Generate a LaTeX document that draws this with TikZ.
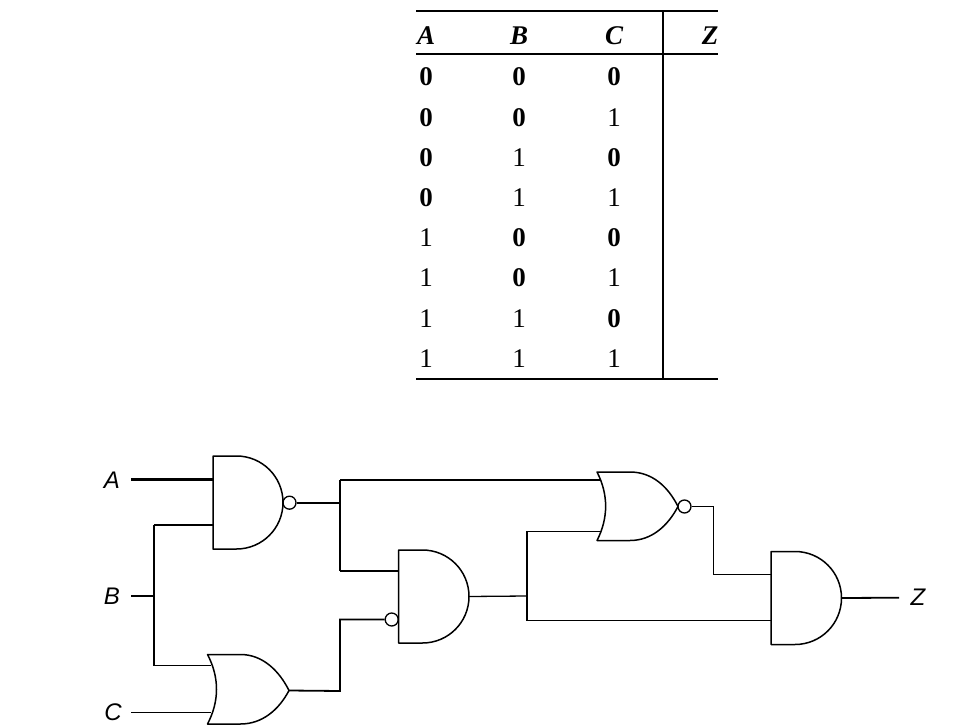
\documentclass[tikz,border=0pt]{standalone}
\usepackage{fontspec}
\setmainfont{Liberation Serif}
\setsansfont{Liberation Sans}
\usetikzlibrary{calc}
\newcommand{\dig}[1]{\ifnum#1=0 \bfseries\fi #1}
\newcommand{\andgate}[5]{% name, xleft, ytop, ybot, xtip
  \pgfmathsetmacro{\gmid}{(#3+#4)/2}
  \pgfmathsetmacro{\grad}{(#4-#3)/2}
  \pgfmathsetmacro{\gstart}{#5-\grad}
  \draw[gate] (#2,#3) -- (\gstart,#3) arc[start angle=-90,end angle=90,x radius=\grad pt,y radius=-\grad pt] -- (#2,#4) -- cycle;
  \coordinate (#1) at (#5,\gmid);
}
\newcommand{\orgate}[7]{% name, xback, ytop, ybot, xapex, xtip, ytip
  \pgfmathsetmacro{\gmid}{(#3+#4)/2}
  \draw[gate] (#2,#3) -- ($(#2,#3)+(33,0)$) .. controls ($(#2,#3)+(55,0)$) and ($(#6,#7)+(-10,-20)$) .. (#6,#7)
    .. controls ($(#6,#7)+(-10,19)$) and ($(#2,#4)+(55,0)$) .. ($(#2,#4)+(33,0)$) -- (#2,#4)
    .. controls (#5+3,\gmid+12) and (#5+3,\gmid-12) .. cycle;
  \coordinate (#1) at (#6,#7);
}
\tikzset{
  gate/.style={line width=1.5pt,line join=round},
  wire/.style={line width=1.8pt,line join=miter},
  thin wire/.style={line width=1.3pt,line join=miter},
  thick wire/.style={line width=2.4pt,line join=miter},
  bubble/.style={circle,draw,line width=1.3pt,minimum size=13pt,inner sep=0pt},
  rulebar/.style={line width=1.7pt},
  cell/.style={font=\fontsize{27}{27}\selectfont,inner sep=0pt,anchor=center},
  head/.style={font=\fontsize{27}{27}\selectfont\bfseries\itshape,inner sep=0pt,anchor=center},
  pinlabel/.style={font=\fontsize{24}{24}\selectfont\sffamily\itshape,inner sep=0pt,anchor=center}
}
\begin{document}
\begin{tikzpicture}[x=1pt,y=-1pt]
\useasboundingbox (0,0) rectangle (966,727);
\fill[white] (0,0) rectangle (966,727);
% table rules
\coordinate (tl) at (416,11); \coordinate (tr) at (718,11);
\coordinate (ml) at (416,54); \coordinate (mr) at (718,54);
\coordinate (bl) at (416,379); \coordinate (br) at (718,379);
\coordinate (vt) at (663,11); \coordinate (vb) at (663,379);
\draw[rulebar] (tl) -- (tr);
\draw[rulebar] (ml) -- (mr);
\draw[rulebar] (bl) -- (br);
\draw[rulebar] (vt) -- (vb);
% table head
\node[head] (hA) at (426,36) {A};
\node[head] (hB) at (519,36) {B};
\node[head] (hC) at (614,36) {C};
\node[head] (hZ) at (710,36) {Z};
% table body
\foreach \row/\yy/\a/\b/\c in {1/77/0/0/0,2/118/0/0/1,3/158/0/1/0,4/198/0/1/1,5/238/1/0/0,6/278/1/0/1,7/319/1/1/0,8/359/1/1/1}{
  \node[cell] (a\row) at (426,\yy) {\dig{\a}};
  \node[cell] (b\row) at (519,\yy) {\dig{\b}};
  \node[cell] (c\row) at (614,\yy) {\dig{\c}};
}
% gates
\andgate{g1}{213}{456}{549}{283}
\andgate{g2}{398.5}{550}{643}{469}
\andgate{g3}{771}{551.5}{644.5}{841.5}
\orgate{g4}{207.5}{654.5}{724}{216.5}{289}{690.5}
\orgate{g5}{597}{472}{540.5}{605.5}{678}{506.5}
\node[bubble] (n1) at (289.5,502.7) {};
\node[bubble] (n2) at (391.7,619.5) {};
\node[bubble] (n3) at (684.5,506.5) {};
% labels
\node[pinlabel] (lA) at (112,480) {A};
\node[pinlabel] (lB) at (112,596) {B};
\node[pinlabel] (lC) at (113,712) {C};
\node[pinlabel] (lZ) at (918,597) {Z};
% pins and junctions
\coordinate (pA) at (131,479.5); \coordinate (gA) at (213,479.5);
\coordinate (pB) at (131,596); \coordinate (jB) at (154,596);
\coordinate (bt) at (154,525); \coordinate (gB) at (213,525);
\coordinate (bb) at (154,665.5); \coordinate (oB) at (211,665.5);
\coordinate (pC) at (131,712.5); \coordinate (oC) at (211,712.5);
\coordinate (j1) at (340,502.7);
\coordinate (j1t) at (340,480); \coordinate (nA) at (601,480);
\coordinate (j1b) at (340,571); \coordinate (g2a) at (398.5,571);
\coordinate (w2) at (340,619.5); \coordinate (w3) at (340,691);
\coordinate (j2) at (526.7,596);
\coordinate (j2t) at (526.7,531.5); \coordinate (nB) at (601,531.5);
\coordinate (j2b) at (526.7,620.5); \coordinate (g3b) at (771,620.5);
\coordinate (w4) at (713.5,506.5); \coordinate (w5) at (713.5,574.5); \coordinate (g3a) at (771,574.5);
\coordinate (pZ) at (899,597.7);
% wires
\draw[thick wire] (pA) -- (gA);
\draw[wire] (pB) -- (jB);
\draw[wire] (gB) -- (bt);
\draw[thick wire] (bt) -- (bb);
\draw[wire] (bb) -- (oB);
\draw[wire] (pC) -- (oC);
\draw[wire] (n1.east) -- (j1);
\draw[thick wire] (j1t) -- (j1b);
\draw[wire] (j1t) -- (nA);
\draw[thin wire] (j1b) -- (g2a);
\draw[wire] (g4) -- (w3) -- (w2) -- (n2.west);
\draw[thin wire] (g2) -- (j2);
\draw[wire] (nB) -- (j2t) -- (j2b) -- (g3b);
\draw[thin wire] (n3.east) -- (w4) -- (w5) -- (g3a);
\draw[wire] (g3) -- (pZ);
\end{tikzpicture}
\end{document}
